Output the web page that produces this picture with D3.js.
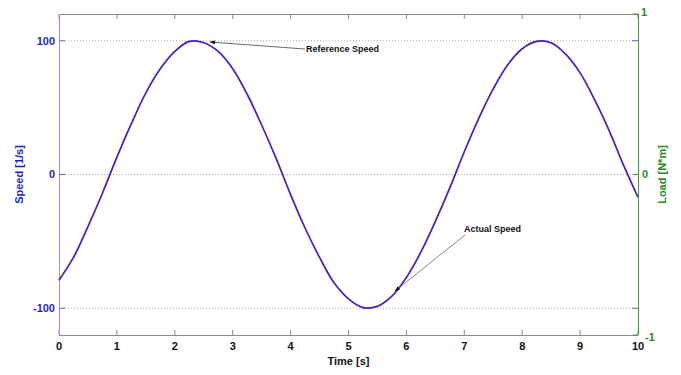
<!DOCTYPE html>
<html>
<head>
<meta charset="utf-8">
<script src="https://cdn.jsdelivr.net/npm/d3@7/dist/d3.min.js"></script>
<style>
  html, body { margin: 0; padding: 0; background: #fff; }
  svg { display: block; }
  text { font-family: "Liberation Sans", Arial, sans-serif; font-weight: bold; }
</style>
</head>
<body>
<svg id="chart" width="681" height="375"></svg>
<script>
// ---- data ----
const time = [0,0.25,0.5,0.75,1,1.25,1.5,1.75,2,2.25,2.5,2.75,3,3.25,3.5,3.75,4,4.25,4.5,4.75,5,5.25,5.5,5.75,6,6.25,6.5,6.75,7,7.25,7.5,7.75,8,8.25,8.5,8.75,9,9.25,9.5,9.75,10];
const referenceSpeed = [-79,-62,-39,-14,13,38,61,79,92,99,99,92,79,60,37,12,-15,-40,-62,-81,-93,-99,-99,-91,-77,-58,-35,-10,17,42,64,82,94,100,98,90,76,56,33,7,-17];
const actualSpeed = [-79,-62,-39,-14,13,38,61,79,92,99.5,98.5,92,79,60,37,12,-15,-40,-62,-81,-93,-99.5,-98.5,-91,-77,-58,-35,-10,17,42,64,82,94,99.5,98.5,90,76,56,33,7,-17];
const xTicks = [0,1,2,3,4,5,6,7,8,9,10];
const speedTicks = [-100,0,100];
const loadTicks = [-1,0,1];

const svg = d3.select("#chart");
const L = 59, R = 638, T = 14, B = 335;

const x = d3.scaleLinear().domain([0,10]).range([L,R]);
const y = d3.scaleLinear().domain([-120,120]).range([B,T]);
const yR = d3.scaleLinear().domain([-1,1]).range([B,T]);

// grid lines
svg.append("g").selectAll("line").data(speedTicks).join("line")
  .attr("x1", L).attr("x2", R)
  .attr("y1", d => y(d)).attr("y2", d => y(d))
  .attr("stroke", "#a8a8a8").attr("stroke-width", 1)
  .attr("stroke-dasharray", "1,2");

// frame top/bottom
svg.append("line").attr("x1", L).attr("x2", R).attr("y1", T+0.5).attr("y2", T+0.5).attr("stroke", "#8a8a8a");
svg.append("line").attr("x1", L).attr("x2", R).attr("y1", B+0.5).attr("y2", B+0.5).attr("stroke", "#8a8a8a");

// x ticks bottom and top
const xg = svg.append("g");
xg.selectAll("line.b").data(xTicks).join("line").attr("class","b")
  .attr("x1", d => x(d)).attr("x2", d => x(d)).attr("y1", B).attr("y2", B-5)
  .attr("stroke", "#8a8a8a");
xg.selectAll("line.t").data(xTicks).join("line").attr("class","t")
  .attr("x1", d => x(d)).attr("x2", d => x(d)).attr("y1", T).attr("y2", T+5)
  .attr("stroke", "#8a8a8a");
xg.selectAll("text").data(xTicks).join("text")
  .attr("x", d => x(d)).attr("y", 350)
  .attr("text-anchor", "middle").attr("font-size", 11).attr("fill", "#111")
  .text(d => d);
svg.append("text").attr("x", x(5)).attr("y", 365).attr("text-anchor","middle")
  .attr("font-size", 11).attr("fill", "#111").text("Time [s]");

// left axis
svg.append("line").attr("x1", L+0.5).attr("x2", L+0.5).attr("y1", T).attr("y2", B).attr("stroke", "#9a94e0");
svg.append("g").selectAll("line").data(speedTicks).join("line")
  .attr("x1", L).attr("x2", L+6).attr("y1", d => y(d)).attr("y2", d => y(d))
  .attr("stroke", "#6a64d8");
svg.append("g").selectAll("line").data(speedTicks.filter(d => d !== 0)).join("line")
  .attr("x1", R).attr("x2", R-6).attr("y1", d => y(d)).attr("y2", d => y(d))
  .attr("stroke", "#6a64d8");
svg.append("g").selectAll("text").data(speedTicks).join("text")
  .attr("x", 55).attr("y", d => y(d)).attr("dy", "0.35em")
  .attr("text-anchor", "end").attr("font-size", 11).attr("fill", "#1f1fc8")
  .text(d => d);
svg.append("text").attr("transform", `translate(23,${y(0)}) rotate(-90)`)
  .attr("text-anchor", "middle").attr("font-size", 11).attr("fill", "#1f1fc8")
  .text("Speed [1/s]");

// right axis
svg.append("line").attr("x1", R+0.5).attr("x2", R+0.5).attr("y1", T).attr("y2", B).attr("stroke", "#3a9a3a");
svg.append("g").selectAll("line").data(loadTicks).join("line")
  .attr("x1", R).attr("x2", R-5).attr("y1", d => yR(d)).attr("y2", d => yR(d))
  .attr("stroke", "#3a9a3a");
svg.append("g").selectAll("text").data(loadTicks).join("text")
  .attr("x", d => d === 0 ? 642 : (d === -1 ? 645 : 641))
  .attr("y", d => yR(d) + (d === -1 ? 2 : d === 1 ? -2 : 0)).attr("dy", "0.35em")
  .attr("text-anchor", "start").attr("font-size", 11).attr("fill", "#2a8a2a")
  .text(d => d);
svg.append("text").attr("transform", `translate(666,${y(0)}) rotate(-90)`)
  .attr("text-anchor", "middle").attr("font-size", 11).attr("fill", "#2a8a2a")
  .text("Load [N*m]");

// curves
const pts = (arr) => arr.map((v,i) => [time[i], v]);
const line = d3.line().x(d => x(d[0])).y(d => y(d[1])).curve(d3.curveCatmullRom.alpha(0.5));
svg.append("path").attr("d", line(pts(actualSpeed)))
  .attr("fill", "none").attr("stroke", "#2a1ed6").attr("stroke-width", 1.7);
svg.append("path").attr("d", line(pts(referenceSpeed)))
  .attr("fill", "none").attr("stroke", "#d42040").attr("stroke-width", 0.7).attr("stroke-opacity", 0.6);

// annotations
const defs = svg.append("defs");
defs.append("marker").attr("id","arr").attr("viewBox","0 0 10 10")
  .attr("refX", 9).attr("refY", 5).attr("markerWidth", 7).attr("markerHeight", 7)
  .attr("orient", "auto")
  .append("path").attr("d","M0,1.5 L10,5 L0,8.5 Z").attr("fill","#111");

svg.append("line").attr("x1", 305).attr("y1", 49).attr("x2", 210).attr("y2", 42)
  .attr("stroke", "#444").attr("stroke-width", 0.8).attr("marker-end", "url(#arr)");
svg.append("text").attr("x", 306).attr("y", 52).attr("font-size", 9).attr("fill", "#111").text("Reference Speed");

svg.append("line").attr("x1", 465).attr("y1", 235).attr("x2", 395).attr("y2", 291)
  .attr("stroke", "#666").attr("stroke-width", 0.8).attr("marker-end", "url(#arr)");
svg.append("text").attr("x", 464).attr("y", 232).attr("font-size", 9).attr("fill", "#111").text("Actual Speed");
</script>
</body>
</html>
